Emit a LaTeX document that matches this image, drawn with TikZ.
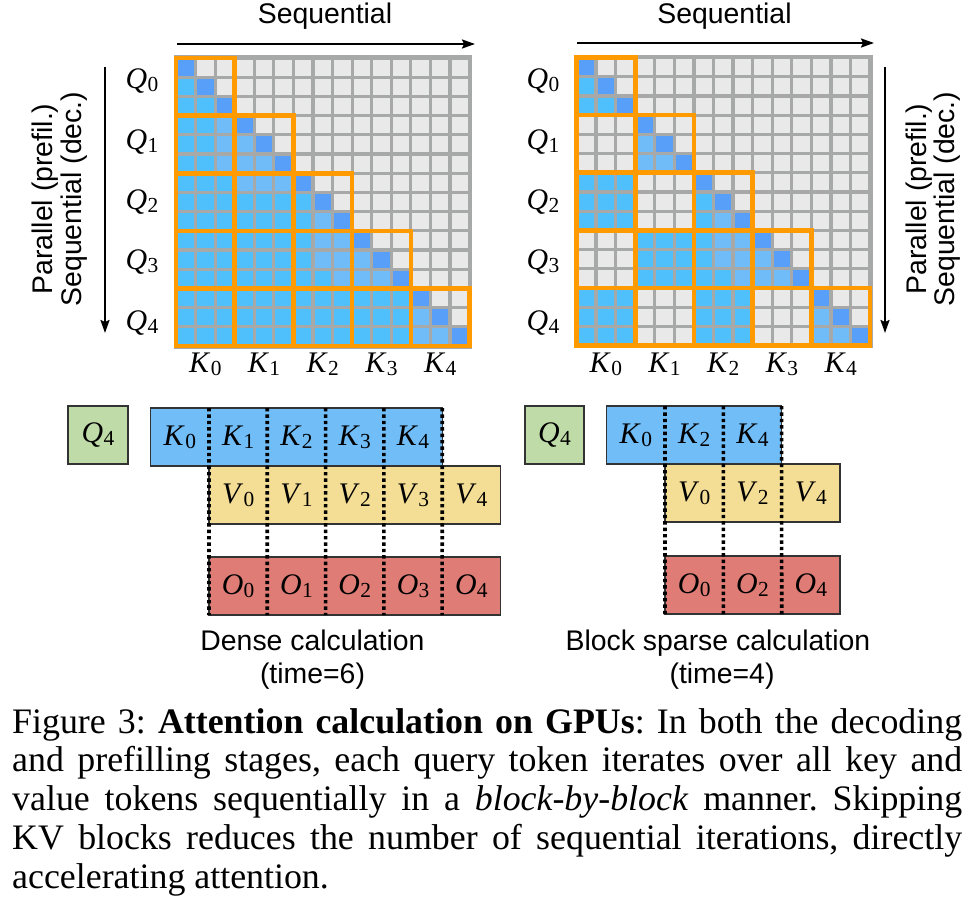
\documentclass[tikz,border=0pt]{standalone}
\usepackage{fontspec}
\setmainfont{Liberation Serif}
\setsansfont{Liberation Sans}
\usetikzlibrary{arrows.meta}

\definecolor{cD}{HTML}{579FF8}
\definecolor{cL}{HTML}{70BCF9}
\definecolor{cC}{HTML}{50C0FD}
\definecolor{cG}{HTML}{E9E9E9}
\definecolor{gridgray}{HTML}{A6A9A7}
\definecolor{orng}{HTML}{FF9A00}
\definecolor{kblue}{HTML}{71BDF8}
\definecolor{vyel}{HTML}{F4DE95}
\definecolor{ored}{HTML}{DE7C75}
\definecolor{qgreen}{HTML}{BFDCA8}
\definecolor{bord}{HTML}{333333}

\newcommand\lbl[2]{\textit{#1}\kern0.3bp\raisebox{-3bp}{\fontsize{21.5}{21.5}\selectfont #2}}

\def\cw{19.57}
\def\ch{19.2}
\def\cg{1.6}

\def\denserows{%
{D,G,G,G,G,G,G,G,G,G,G,G,G,G,G},%
{C,D,G,G,G,G,G,G,G,G,G,G,G,G,G},%
{C,C,D,G,G,G,G,G,G,G,G,G,G,G,G},%
{C,C,L,D,G,G,G,G,G,G,G,G,G,G,G},%
{C,C,L,L,D,G,G,G,G,G,G,G,G,G,G},%
{C,C,L,L,L,D,G,G,G,G,G,G,G,G,G},%
{C,C,C,L,L,L,D,G,G,G,G,G,G,G,G},%
{C,C,C,C,C,C,C,D,G,G,G,G,G,G,G},%
{C,C,C,C,C,C,C,L,D,G,G,G,G,G,G},%
{C,C,C,C,C,C,C,L,L,D,G,G,G,G,G},%
{C,C,C,C,C,C,C,L,L,L,D,G,G,G,G},%
{C,C,C,C,C,C,C,C,L,L,L,D,G,G,G},%
{C,C,C,C,C,C,C,C,C,C,C,C,D,G,G},%
{C,C,C,C,C,C,C,C,C,C,C,C,L,D,G},%
{C,C,C,C,C,C,C,C,C,C,C,C,L,L,D}}

\def\sparserows{%
{D,G,G,G,G,G,G,G,G,G,G,G,G,G,G},%
{C,D,G,G,G,G,G,G,G,G,G,G,G,G,G},%
{C,C,D,G,G,G,G,G,G,G,G,G,G,G,G},%
{G,G,G,D,G,G,G,G,G,G,G,G,G,G,G},%
{G,G,G,L,D,G,G,G,G,G,G,G,G,G,G},%
{G,G,G,L,L,D,G,G,G,G,G,G,G,G,G},%
{C,C,C,G,G,G,D,G,G,G,G,G,G,G,G},%
{C,C,C,G,G,G,C,D,G,G,G,G,G,G,G},%
{C,C,C,G,G,G,C,L,D,G,G,G,G,G,G},%
{G,G,G,C,C,C,C,L,L,D,G,G,G,G,G},%
{G,G,G,C,C,C,C,L,L,L,D,G,G,G,G},%
{G,G,G,C,C,C,C,C,L,L,L,D,G,G,G},%
{C,C,C,G,G,G,C,C,C,G,G,G,D,G,G},%
{C,C,C,G,G,G,C,C,C,G,G,G,L,D,G},%
{C,C,C,G,G,G,C,C,C,G,G,G,L,L,D}}

\newcommand\drawmat[3]{%
  \fill[gridgray] ({#1-2.5},{#2-2.8}) rectangle ({#1+15*\cw+2.8},{#2+15*\ch+2.5});
  \foreach \rowlist [count=\ri from 0] in #3 {
    \foreach \cl [count=\ci from 0] in \rowlist {
      \edef\cellcol{c\cl}
      \fill[fill=\cellcol] ({#1+\ci*\cw+\cg},{#2+\ri*\ch+\cg}) rectangle ({#1+(\ci+1)*\cw-\cg},{#2+(\ri+1)*\ch-\cg});
    }
  }
  \foreach \i in {0,...,4}{\foreach \j in {0,...,\i}{
    \draw[blockline] ({#1+\j*3*\cw},{#2+\i*3*\ch}) rectangle ({#1+(\j+1)*3*\cw},{#2+(\i+1)*3*\ch});
  }}
}

\begin{document}
\begin{tikzpicture}[x=1bp,y=-1bp,
  blockline/.style={draw=orng, line width=4.6bp, line join=miter},
  sans/.style={font=\sffamily\fontsize{28.5}{29}\selectfont},
  mlabel/.style={font=\fontsize{30}{30}\selectfont, inner sep=0, anchor=base},
  arr/.style={line width=2bp, -{Stealth[length=13bp, width=9bp, inset=2bp]}},
  blk/.style={minimum width=58.33bp, minimum height=58bp, inner sep=0, outer sep=0, font=\fontsize{30}{30}\selectfont},
  outl/.style={draw=bord, line width=1.3bp},
  dotsep/.style={line width=3.6bp, dash pattern=on 3.4bp off 3bp, black}
]
\useasboundingbox (0,0) rectangle (972,908);
\fill[white] (0,0) rectangle (972,908);

% ---------------- matrices
\drawmat{176}{58}{\denserows}
\drawmat{576.5}{57.5}{\sparserows}

% ---------------- top labels and arrows
\node[sans, anchor=base] (lseq) at (325,23) {Sequential};
\node[sans, anchor=base] (rseq) at (724.5,23) {Sequential};
\coordinate (la1) at (177,44);
\coordinate (la2) at (475,44);
\coordinate (ra1) at (577,43);
\coordinate (ra2) at (874,43);
\draw[arr] (la1) -- (la2);
\draw[arr] (ra1) -- (ra2);

% ---------------- side labels and arrows
\node[sans, rotate=90, anchor=base] (lpar) at (52.5,199) {Parallel (prefil.)};
\node[sans, rotate=90, anchor=base] (lseqd) at (81,199) {Sequential (dec.)};
\node[sans, rotate=90, anchor=base] (rpar) at (926,199) {Parallel (prefil.)};
\node[sans, rotate=90, anchor=base] (rseqd) at (954,199) {Sequential (dec.)};
\coordinate (lv1) at (105,67);
\coordinate (lv2) at (105,333);
\coordinate (rv1) at (885,67);
\coordinate (rv2) at (885,333);
\draw[arr] (lv1) -- (lv2);
\draw[arr] (rv1) -- (rv2);

% ---------------- Q and K labels
\foreach \n/\yy in {0/88,1/149,2/209,3/269,4/330}{
  \node[mlabel] (lq\n) at (142,\yy) {\lbl{Q}{\n}};
  \node[mlabel] (rq\n) at (543,\yy) {\lbl{Q}{\n}};
}
\foreach \n in {0,...,4}{
  \node[mlabel] (lk\n) at ({176+(\n+0.5)*3*\cw},372) {\lbl{K}{\n}};
  \node[mlabel] (rk\n) at ({576.5+(\n+0.5)*3*\cw},372) {\lbl{K}{\n}};
}

% ---------------- dense calculation
\node[blk, fill=qgreen, outl, minimum width=60bp] (dq) at (98,435) {\lbl{Q}{4}};
\foreach \n in {0,...,4}{
  \node[blk, fill=kblue] (dk\n) at ({179.85+58.3*\n},437) {\lbl{K}{\n}};
  \node[blk, fill=vyel] (dv\n) at ({238.15+58.3*\n},495) {\lbl{V}{\n}};
  \node[blk, fill=ored] (do\n) at ({238.15+58.3*\n},586) {\lbl{O}{\n}};
}
\draw[outl] (dk0.north west) rectangle (dk4.south east);
\draw[outl] (dv0.north west) rectangle (dv4.south east);
\draw[outl] (do0.north west) rectangle (do4.south east);
\draw[dotsep] (dk1.north west) -- (do0.south west);
\draw[dotsep] (dk2.north west) -- (do1.south west);
\draw[dotsep] (dk3.north west) -- (do2.south west);
\draw[dotsep] (dk4.north west) -- (do3.south west);
\draw[dotsep] (dk4.north east) -- (do4.south west);

\node[sans, anchor=base] (dl1) at (312.5,650) {Dense calculation};
\node[sans, anchor=base] (dl2) at (312.5,683) {(time=6)};

% ---------------- sparse calculation
\node[blk, fill=qgreen, outl, minimum width=59bp] (sq) at (554.5,435) {\lbl{Q}{4}};
\foreach \n/\m in {0/0,2/1,4/2}{
  \node[blk, fill=kblue] (sk\n) at ({635.85+58.33*\m},435) {\lbl{K}{\n}};
  \node[blk, fill=vyel] (sv\n) at ({694.2+58.33*\m},493) {\lbl{V}{\n}};
  \node[blk, fill=ored] (so\n) at ({694.2+58.33*\m},585) {\lbl{O}{\n}};
}
\draw[outl] (sk0.north west) rectangle (sk4.south east);
\draw[outl] (sv0.north west) rectangle (sv4.south east);
\draw[outl] (so0.north west) rectangle (so4.south east);
\draw[dotsep] (sk2.north west) -- (so0.south west);
\draw[dotsep] (sk4.north west) -- (so2.south west);
\draw[dotsep] (sk4.north east) -- (so4.south west);

\node[sans, anchor=base] (sl1) at (718,650) {Block sparse calculation};
\node[sans, anchor=base] (sl2) at (722,683) {(time=4)};

% ---------------- caption
\node[anchor=north west, text width=950bp, align=justify, inner sep=0,
      font=\fontsize{36}{39}\selectfont] (cap) at (12,708)
{\frenchspacing\hyphenpenalty=10000\exhyphenpenalty=10000\tolerance=10000
Figure 3: \textbf{Attention calculation on GPUs}: In both the decoding\linebreak
and prefilling stages, each query token iterates over all key and\linebreak
value tokens sequentially in a \textit{block-by-block} manner. Skipping\linebreak
KV blocks reduces the number of sequential iterations, directly\linebreak
accelerating attention.};
\end{tikzpicture}
\end{document}
